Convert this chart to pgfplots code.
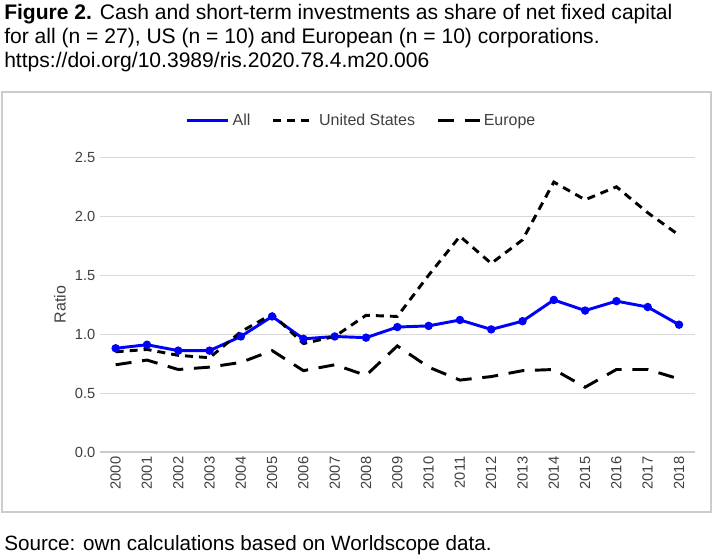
\documentclass[border=0pt]{standalone}
\usepackage{pgfplots}
\pgfplotsset{compat=1.18}
\usepackage{fontspec}
\setmainfont{Liberation Sans}
\begin{document}
\begin{tikzpicture}
\begin{scope}[x=0.75pt,y=-0.75pt]
\path[use as bounding box] (0,0) rectangle (715,559);
\draw[gray!40, line width=0.8pt] (2,92) rectangle (711,512);
\node[anchor=north west, align=left, font=\fontsize{15.8}{18}\selectfont, inner sep=0pt] at (4,4)
{\textbf{Figure 2.} Cash and short-term investments as share of net fixed capital\\
for all (n = 27), US (n = 10) and European (n = 10) corporations.\\
https://doi.org/10.3989/ris.2020.78.4.m20.006};
\node[anchor=west, font=\fontsize{15.5}{17}\selectfont, inner sep=0pt] at (4,545) {Source: own calculations based on Worldscope data.};
\end{scope}
\begin{axis}[at={(75pt,-339pt)}, anchor=south west, scale only axis,
 width=446pt, height=221pt,
 xmin=1999.5, xmax=2018.5, ymin=0, ymax=2.5,
 xtick={2000,...,2018}, ytick={0,0.5,...,2.5},
 xticklabel style={rotate=90, anchor=east, /pgf/number format/1000 sep={}},
 yticklabel style={/pgf/number format/fixed, /pgf/number format/precision=1, /pgf/number format/fixed zerofill},
 /pgf/number format/assume math mode=true,
 ticklabel style={font=\fontsize{11}{12}\selectfont, text=black!75},
 ylabel={Ratio}, ylabel style={font=\fontsize{12}{13}\selectfont, text=black!75},
 ymajorgrids, grid style={gray!30, line width=0.8pt},
 axis x line*=bottom, axis y line*=left,
 x axis line style={draw=gray!40, line width=0.8pt, -}, y axis line style={draw=none},
 major tick length=0pt,
 legend style={at={(0.44,1)}, anchor=south, yshift=18pt, draw=none, legend columns=3,
  font=\fontsize{12}{13}\selectfont, text=black!75, /tikz/every even column/.append style={column sep=14pt}},
 legend image code/.code={\draw[#1] (0pt,0pt) -- (1.1cm,0pt);},
 every axis plot/.append style={line width=2.2pt, black}
]
\addplot coordinates {(2000,0.88)(2001,0.91)(2002,0.86)(2003,0.86)(2004,0.98)(2005,1.15)(2006,0.96)(2007,0.98)(2008,0.97)(2009,1.06)(2010,1.07)(2011,1.12)(2012,1.04)(2013,1.11)(2014,1.29)(2015,1.20)(2016,1.28)(2017,1.23)(2018,1.08)};
\addlegendentry{All}
\addplot[dash pattern=on 6pt off 4.5pt] coordinates {(2000,0.85)(2001,0.87)(2002,0.82)(2003,0.80)(2004,1.02)(2005,1.17)(2006,0.92)(2007,0.98)(2008,1.16)(2009,1.15)(2010,1.50)(2011,1.83)(2012,1.60)(2013,1.80)(2014,2.29)(2015,2.14)(2016,2.25)(2017,2.03)(2018,1.84)};
\addlegendentry{United States}
\addplot[dash pattern=on 12pt off 8pt] coordinates {(2000,0.74)(2001,0.78)(2002,0.70)(2003,0.72)(2004,0.76)(2005,0.86)(2006,0.69)(2007,0.74)(2008,0.65)(2009,0.90)(2010,0.72)(2011,0.61)(2012,0.64)(2013,0.69)(2014,0.70)(2015,0.55)(2016,0.70)(2017,0.70)(2018,0.62)};
\addlegendentry{Europe}
\end{axis}
\end{tikzpicture}
\end{document}
